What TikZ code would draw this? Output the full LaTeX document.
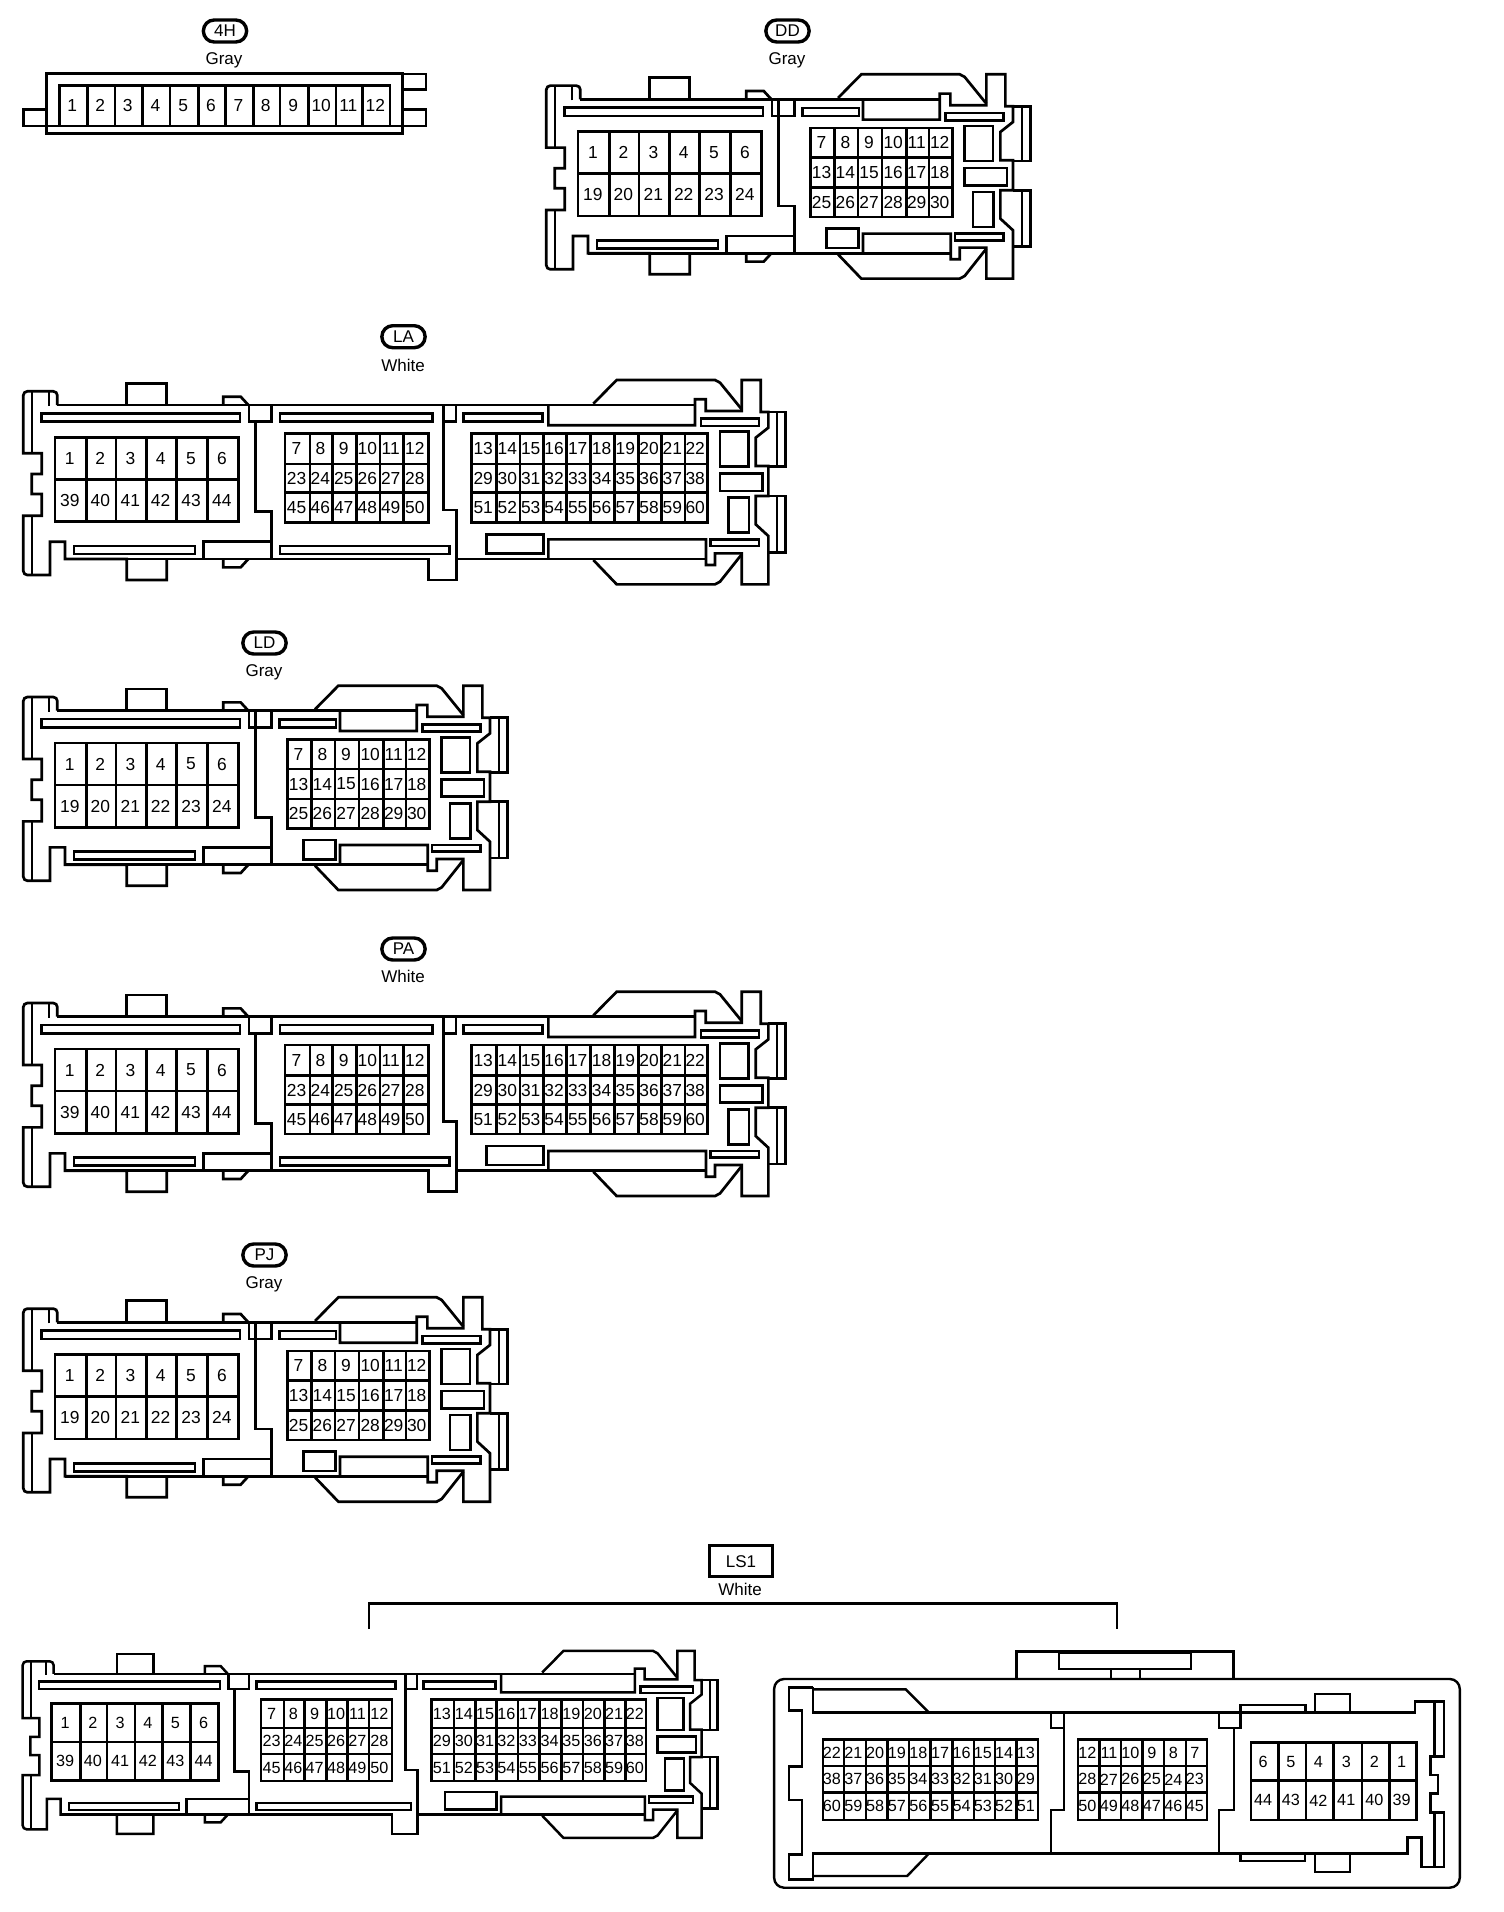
\documentclass[tikz,border=0pt]{standalone}
\usepackage{fontspec}
\setmainfont{Liberation Sans}
\tikzset{
  frame/.style={x=0.16667pt,y=-0.16667pt},
  cell/.style={inner sep=0pt,font=\gfont},
  thinl/.style={line width=1.1pt},
  slotbox/.style={line width=1.3pt},
  oval/.style={draw,line width=1.7pt,rounded corners=5.4pt,minimum width=21.6pt,minimum height=11pt,inner sep=0pt,font=\lfont},
  rectlabel/.style={draw,line width=1.5pt,minimum width=31.5pt,minimum height=15.5pt,inner sep=0pt,font=\lfont},
  colourlabel/.style={inner sep=0pt,font=\lfont}
}
\newcommand\gfont{\fontsize{8.7}{9}\selectfont}
\newcommand\lfont{\fontsize{8.5}{9}\selectfont}
\newcount\cellno
% n columns, x list, y list, labels row by row
\newcommand\cgrid[4]{%
  \foreach \lab [count=\k from 0] in {#4} {%
    \pgfmathtruncatemacro\cc{mod(\k,#1)}%
    \pgfmathtruncatemacro\rr{int(\k/#1)}%
    \pgfmathtruncatemacro\ccn{\cc+1}%
    \pgfmathtruncatemacro\rrn{\rr+1}%
    \pgfmathsetmacro\xl{{#2}[\cc]}%
    \pgfmathsetmacro\xr{{#2}[\ccn]}%
    \pgfmathsetmacro\yt{{#3}[\rr]}%
    \pgfmathsetmacro\yb{{#3}[\rrn]}%
    \global\advance\cellno by 1
    \draw (\xl,\yt) rectangle (\xr,\yb);
    \node[cell] (c\the\cellno) at ({(\xl+\xr)/2-3},{(\yt+\yb)/2}) {\lab};
  }%
}
% left half of the long connector shell
\newcommand\leftshell[1]{%
  \draw (147,258) -- (147,214);
  \draw (745,255) -- (722,230) -- (670,230) -- (670,255);
  \draw (172,255) [rounded corners=2pt] -- (172,214) -- (70,214) [sharp corners] -- (70,400) -- (125,400) -- (125,462) -- (95,462) -- (95,522) -- (125,522) -- (125,587) -- (70,587) [rounded corners=2pt] -- (70,765) [sharp corners] -- (150,765) -- (150,665) -- (195,665) -- (195,717) -- (380,717) -- (380,780) -- (500,780) -- (500,717);
  \draw (670,717) -- (670,742) -- (722,742) -- (745,717);
  \draw (380,255) -- (380,190) -- (500,190) -- (500,255);
  \draw[thinl] (97,214) -- (97,400) (97,587) -- (97,765);
  \draw (124,280) rectangle (720,305);
  \draw (222,678) rectangle (585,702);
  \draw (610,717) -- (610,665) -- (815,665);
  \cgrid{6}{165,260,348,440,530,622,715}{352,478,605}{#1}
}
% right end, in the coordinates of the short connector
\newcommand\rightend[2]{%
  \draw (#1,255) -- (#1,316) -- (1250,316) -- (1250,238) -- (1282,238) -- (1282,273) -- (1390,273) -- (1390,180) -- (1447,180) -- (1447,276) -- (1470,276) -- (1470,323) -- (1432,353) -- (1432,438) -- (1470,438) -- (1470,528) -- (1432,528) -- (1432,613) -- (1470,648) -- (1470,793) -- (1390,793) -- (1390,700) -- (1310,700) -- (1310,735) -- (1283,735) -- (1283,658) -- (#2,658) -- (#2,717);
  \draw (1470,276) -- (1522,276) -- (1522,440) -- (1470,440);
  \draw (1470,528) -- (1522,528) -- (1522,697) -- (1470,697);
  \draw[thinl] (1497,276) -- (1497,440) (1497,528) -- (1497,697);
  \draw (945,251) -- (1015,180) -- (1310,180) -- (1325,188) -- (1390,268);
  \draw (945,720) -- (1015,793) -- (1310,793) -- (1325,785) -- (1390,703);
  \draw (1268,296) rectangle (1442,318);
  \draw (1296,658) rectangle (1442,678);
  \draw (1325,335) rectangle (1410,440);
  \draw (1325,461) rectangle (1452,513);
  \draw (1350,533) rectangle (1412,638);
}
% long connector body
\newcommand\longbody[1]{%
  \leftshell{#1}
  \draw (172,255) -- (2085,255);
  \draw (195,717) -- (1285,717) -- (1285,780) -- (1370,780) -- (1370,570) -- (1330,570) -- (1330,255);
  \draw (1370,717) -- (2118,717);
  \draw (747,255) -- (747,305) -- (815,305) -- (815,255);
  \draw (767,305) -- (767,575) -- (815,575) -- (815,717);
  \draw (840,280) rectangle (1297,305);
  \draw (840,678) rectangle (1348,702);
  \draw (1330,305) -- (1368,305) -- (1368,255);
  \draw (1390,280) rectangle (1627,305);
  \draw (1460,643) rectangle (1630,700);
  \cgrid{6}{855,930,998,1070,1140,1210,1285}{340,432,518,607}{7,8,9,10,11,12,23,24,25,26,27,28,45,46,47,48,49,50}
  \cgrid{10}{1415,1490,1560,1630,1700,1772,1843,1915,1985,2055,2122}{340,432,518,607}{13,14,15,16,17,18,19,20,21,22,29,30,31,32,33,34,35,36,37,38,51,52,53,54,55,56,57,58,59,60}
  \begin{scope}[shift={(835,0)}]
    \rightend{810}{810}
  \end{scope}
}
% short connector body
\newcommand\shortbody[1]{%
  \leftshell{#1}
  \draw (172,255) -- (1250,255);
  \draw (195,717) -- (1283,717);
  \draw (747,255) -- (747,305) -- (815,305) -- (815,255);
  \draw (767,255) -- (767,575) -- (815,575) -- (815,717);
  \draw (838,281) rectangle (1008,305);
  \draw (910,643) rectangle (1007,701);
  \cgrid{6}{862,935,1005,1077,1150,1218,1288}{341,430,520,608}{7,8,9,10,11,12,13,14,15,16,17,18,25,26,27,28,29,30}
  \rightend{1020}{1020}
}
\begin{document}
\begin{tikzpicture}[x=0.5pt,y=-0.5pt,line width=1.35pt,line join=miter]
\useasboundingbox (0,0) rectangle (1504,1912);
% labels
\node[oval] (l4h) at (225,31) {4H};
\node[colourlabel] (c4h) at (224,60) {Gray};
\node[oval] (ldd) at (787.5,31) {DD};
\node[colourlabel] (cdd) at (787,60) {Gray};
\node[oval] (lla) at (403.5,336.7) {LA};
\node[colourlabel] (cla) at (403,365) {White};
\node[oval] (lld) at (264.5,643) {LD};
\node[colourlabel] (cld) at (264,672.7) {Gray};
\node[oval] (lpa) at (403.5,949) {PA};
\node[colourlabel] (cpa) at (403,976.7) {White};
\node[oval] (lpj) at (264.5,1255) {PJ};
\node[colourlabel] (cpj) at (264,1284.3) {Gray};
\node[rectlabel] (lls) at (741,1561.3) {LS1};
\node[colourlabel] (cls) at (740,1589.5) {White};
% 4H
\begin{scope}[shift={(0,0)},frame]
  \draw (140,220) rectangle (1207,400);
  \draw (140,378) -- (1207,378);
  \draw (140,328) -- (70,328) -- (70,378) -- (140,378);
  \draw (1207,222) -- (1278,222) -- (1278,268) -- (1207,268);
  \draw (1207,328) -- (1278,328) -- (1278,378) -- (1207,378);
  \cgrid{12}{178,262,345,428,510,595,677,760,840,925,1008,1088,1170}{257,378}{1,2,3,4,5,6,7,8,9,10,11,12}
\end{scope}
% DD
\begin{scope}[shift={(523,14.3)},frame]
  \shortbody{1,2,3,4,5,6,19,20,21,22,23,24}
\end{scope}
% LA, LD, PA, PJ
\begin{scope}[shift={(0,320)},frame]
  \longbody{1,2,3,4,5,6,39,40,41,42,43,44}
\end{scope}
\begin{scope}[shift={(0,625.7)},frame]
  \shortbody{1,2,3,4,5,6,19,20,21,22,23,24}
\end{scope}
\begin{scope}[shift={(0,931.7)},frame]
  \longbody{1,2,3,4,5,6,39,40,41,42,43,44}
\end{scope}
\begin{scope}[shift={(0,1237.3)},frame]
  \shortbody{1,2,3,4,5,6,19,20,21,22,23,24}
\end{scope}
% LS1 bracket
\coordinate (brl) at (369,1629);
\coordinate (brr) at (1117,1629);
\draw (brl) -- (369,1603.3) -- (1117,1603.3) -- (brr);
% LS1 left
\begin{scope}[shift={(1.4,1596)},x=0.1519pt,y=-0.1525pt,line width=1.25pt]
  \renewcommand\gfont{\fontsize{8.1}{9}\selectfont}
  \longbody{1,2,3,4,5,6,39,40,41,42,43,44}
\end{scope}
% LS1 right
\begin{scope}[shift={(740,1530)},x=0.24366pt,y=-0.16667pt,line width=1.2pt]
  \renewcommand\gfont{\fontsize{8.1}{9}\selectfont}
  \draw[rounded corners=5pt] (70,447) rectangle (1477,1073);
  \draw (567,447) -- (567,365) -- (1013,365) -- (1013,447);
  \draw (655,368) rectangle (925,417);
  \draw[thinl] (762,417) -- (762,447) (820,417) -- (820,447);
  \draw (150,472) -- (100,472) -- (100,542) -- (127,542) -- (127,710) -- (100,710) -- (100,810) -- (127,810) -- (127,973) -- (100,973) -- (100,1048) -- (150,1048) -- (150,970) -- (1370,970) -- (1370,922) -- (1398,922) -- (1398,1010) -- (1445,1010) -- (1445,848) -- (1417,848) -- (1417,790) -- (1432,790) -- (1432,735) -- (1417,735) -- (1417,680) -- (1445,680) -- (1445,515) -- (1385,515) -- (1385,548) -- (150,548) -- (150,472);
  \draw[thinl] (1425,515) -- (1425,680) (1425,848) -- (1425,1010);
  \draw (150,478) -- (340,478) -- (388,548);
  \draw (150,1038) -- (343,1038) -- (388,970);
  \draw[thinl] (638,548) -- (638,593) -- (665,593);
  \draw[thinl] (665,548) -- (665,840) -- (638,840) -- (638,970);
  \draw[thinl] (983,548) -- (983,593) -- (1027,593) -- (1027,548);
  \draw[thinl] (1013,593) -- (1013,840) -- (983,840) -- (983,970);
  \draw (1027,548) -- (1027,525) -- (1160,525) -- (1160,548);
  \draw[thinl] (1027,970) -- (1027,992) -- (1160,992) -- (1160,970);
  \draw (1180,548) -- (1180,492) -- (1252,492) -- (1252,548);
  \draw (1180,970) -- (1180,1025) -- (1252,1025) -- (1252,970);
  \cgrid{10}{170,213,258,303,347,391,436,480,523,567,612}{628,708,788,870}{22,21,20,19,18,17,16,15,14,13,38,37,36,35,34,33,32,31,30,29,60,59,58,57,56,55,54,53,52,51}
  \cgrid{6}{694,738,782,826,870,915,958}{628,708,788,870}{12,11,10,9,8,7,28,27,26,25,24,23,50,49,48,47,46,45}
  \cgrid{6}{1048,1105,1162,1218,1276,1333,1388}{638,752,870}{6,5,4,3,2,1,44,43,42,41,40,39}
\end{scope}
\end{tikzpicture}
\end{document}
